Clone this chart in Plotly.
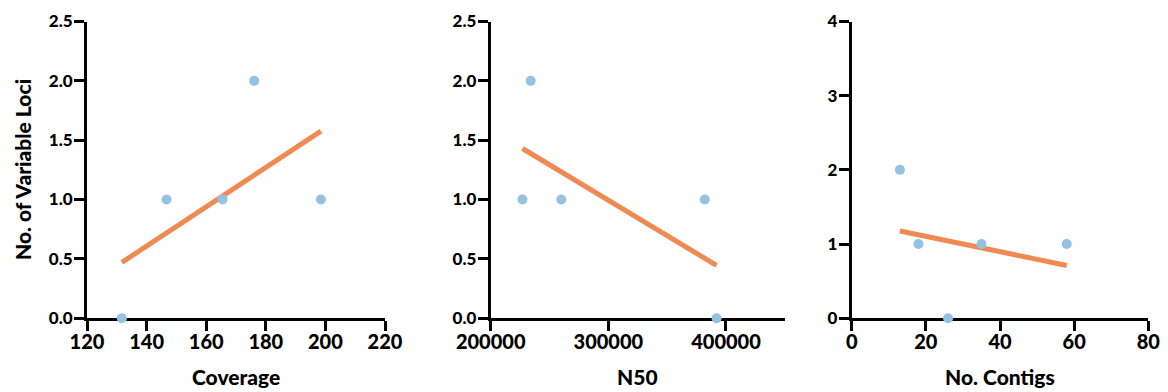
import numpy as np
import plotly.graph_objects as go

# Variable loci per isolate against assembly statistics
variable_loci = [0, 1, 1, 2, 1]
coverage = [131.7, 146.7, 165.5, 176.1, 198.5]

n50_loci = [1, 2, 1, 1, 0]
n50 = [227000, 234000, 260000, 382000, 392000]

contig_loci = [2, 1, 0, 1, 1]
contigs = [13, 18, 26, 35, 58]

x_titles = ["Coverage", "N50", "No. Contigs"]
y_title = "No. of Variable Loci"

BLUE = "#93c2e2"
ORANGE = "#ef8a52"
FONT = "Lato"
WEIGHT = 900

W, H = 1168, 392
panels = [
    dict(x=coverage, y=variable_loci, xr=[120, 220], xd=[87, 385], xt=20,
         yr=[0, 2.5], yt=0.5, yfmt=".1f"),
    dict(x=n50, y=n50_loci, xr=[200000, 450000], xd=[490.7, 784.8], xt=100000,
         yr=[0, 2.5], yt=0.5, yfmt=".1f"),
    dict(x=contigs, y=contig_loci, xr=[0, 80], xd=[851.7, 1148.3], xt=20,
         yr=[0, 4], yt=1, yfmt="d"),
]
y_px = [21.5, 318.2]
y_dom = [1 - y_px[1] / H, 1 - y_px[0] / H]

fig = go.Figure()
layout = dict(width=W, height=H, margin=dict(l=0, r=0, t=0, b=0, autoexpand=False),
              paper_bgcolor="white", plot_bgcolor="white", showlegend=False,
              font=dict(family=FONT, color="black", weight=WEIGHT))
annotations = []

for i, p in enumerate(panels):
    sx = "" if i == 0 else str(i + 1)
    xa, ya = "x" + sx, "y" + sx
    xs = np.array(p["x"], dtype=float)
    ys = np.array(p["y"], dtype=float)
    slope, intercept = np.polyfit(xs, ys, 1)
    fx = np.array([xs.min(), xs.max()])

    fig.add_trace(go.Scatter(x=fx, y=slope * fx + intercept, mode="lines",
                             line=dict(color=ORANGE, width=5),
                             xaxis=xa, yaxis=ya, hoverinfo="skip"))
    fig.add_trace(go.Scatter(x=xs, y=ys, mode="markers",
                             marker=dict(color=BLUE, size=10),
                             cliponaxis=False, xaxis=xa, yaxis=ya))

    dom = [p["xd"][0] / W, p["xd"][1] / W]
    layout["xaxis" + sx] = dict(
        domain=dom, range=p["xr"], dtick=p["xt"], tick0=p["xr"][0],
        showgrid=False, zeroline=False, showline=True, linecolor="black",
        linewidth=3, ticks="outside", ticklen=10, tickwidth=3,
        tickcolor="black", tickformat="d", automargin=False,
        ticklabelstandoff=-6,
        tickfont=dict(family=FONT, size=20, color="black", weight=WEIGHT),
        anchor=ya, layer="below traces", fixedrange=True)
    layout["yaxis" + sx] = dict(
        domain=y_dom, range=p["yr"], dtick=p["yt"], tick0=0,
        showgrid=False, zeroline=False, showline=True, linecolor="black",
        linewidth=3, ticks="outside", ticklen=10, tickwidth=3,
        tickcolor="black", tickformat=p["yfmt"], automargin=False,
        ticklabelstandoff=-2,
        tickfont=dict(family=FONT, size=17, color="black", weight=WEIGHT),
        anchor=xa, layer="below traces", fixedrange=True)

    annotations.append(dict(
        text=x_titles[i], x=(dom[0] + dom[1]) / 2, y=1 - 376 / H,
        xref="paper", yref="paper", showarrow=False,
        xanchor="center", yanchor="middle",
        font=dict(family=FONT, size=21, color="black", weight=WEIGHT)))

annotations.append(dict(
    text=y_title, x=22 / W, y=1 - 170 / H, xref="paper", yref="paper",
    showarrow=False, textangle=-90, xanchor="center", yanchor="middle",
    font=dict(family=FONT, size=21, color="black", weight=WEIGHT)))

layout["annotations"] = annotations
fig.update_layout(**layout)
fig.write_html("out.html")
